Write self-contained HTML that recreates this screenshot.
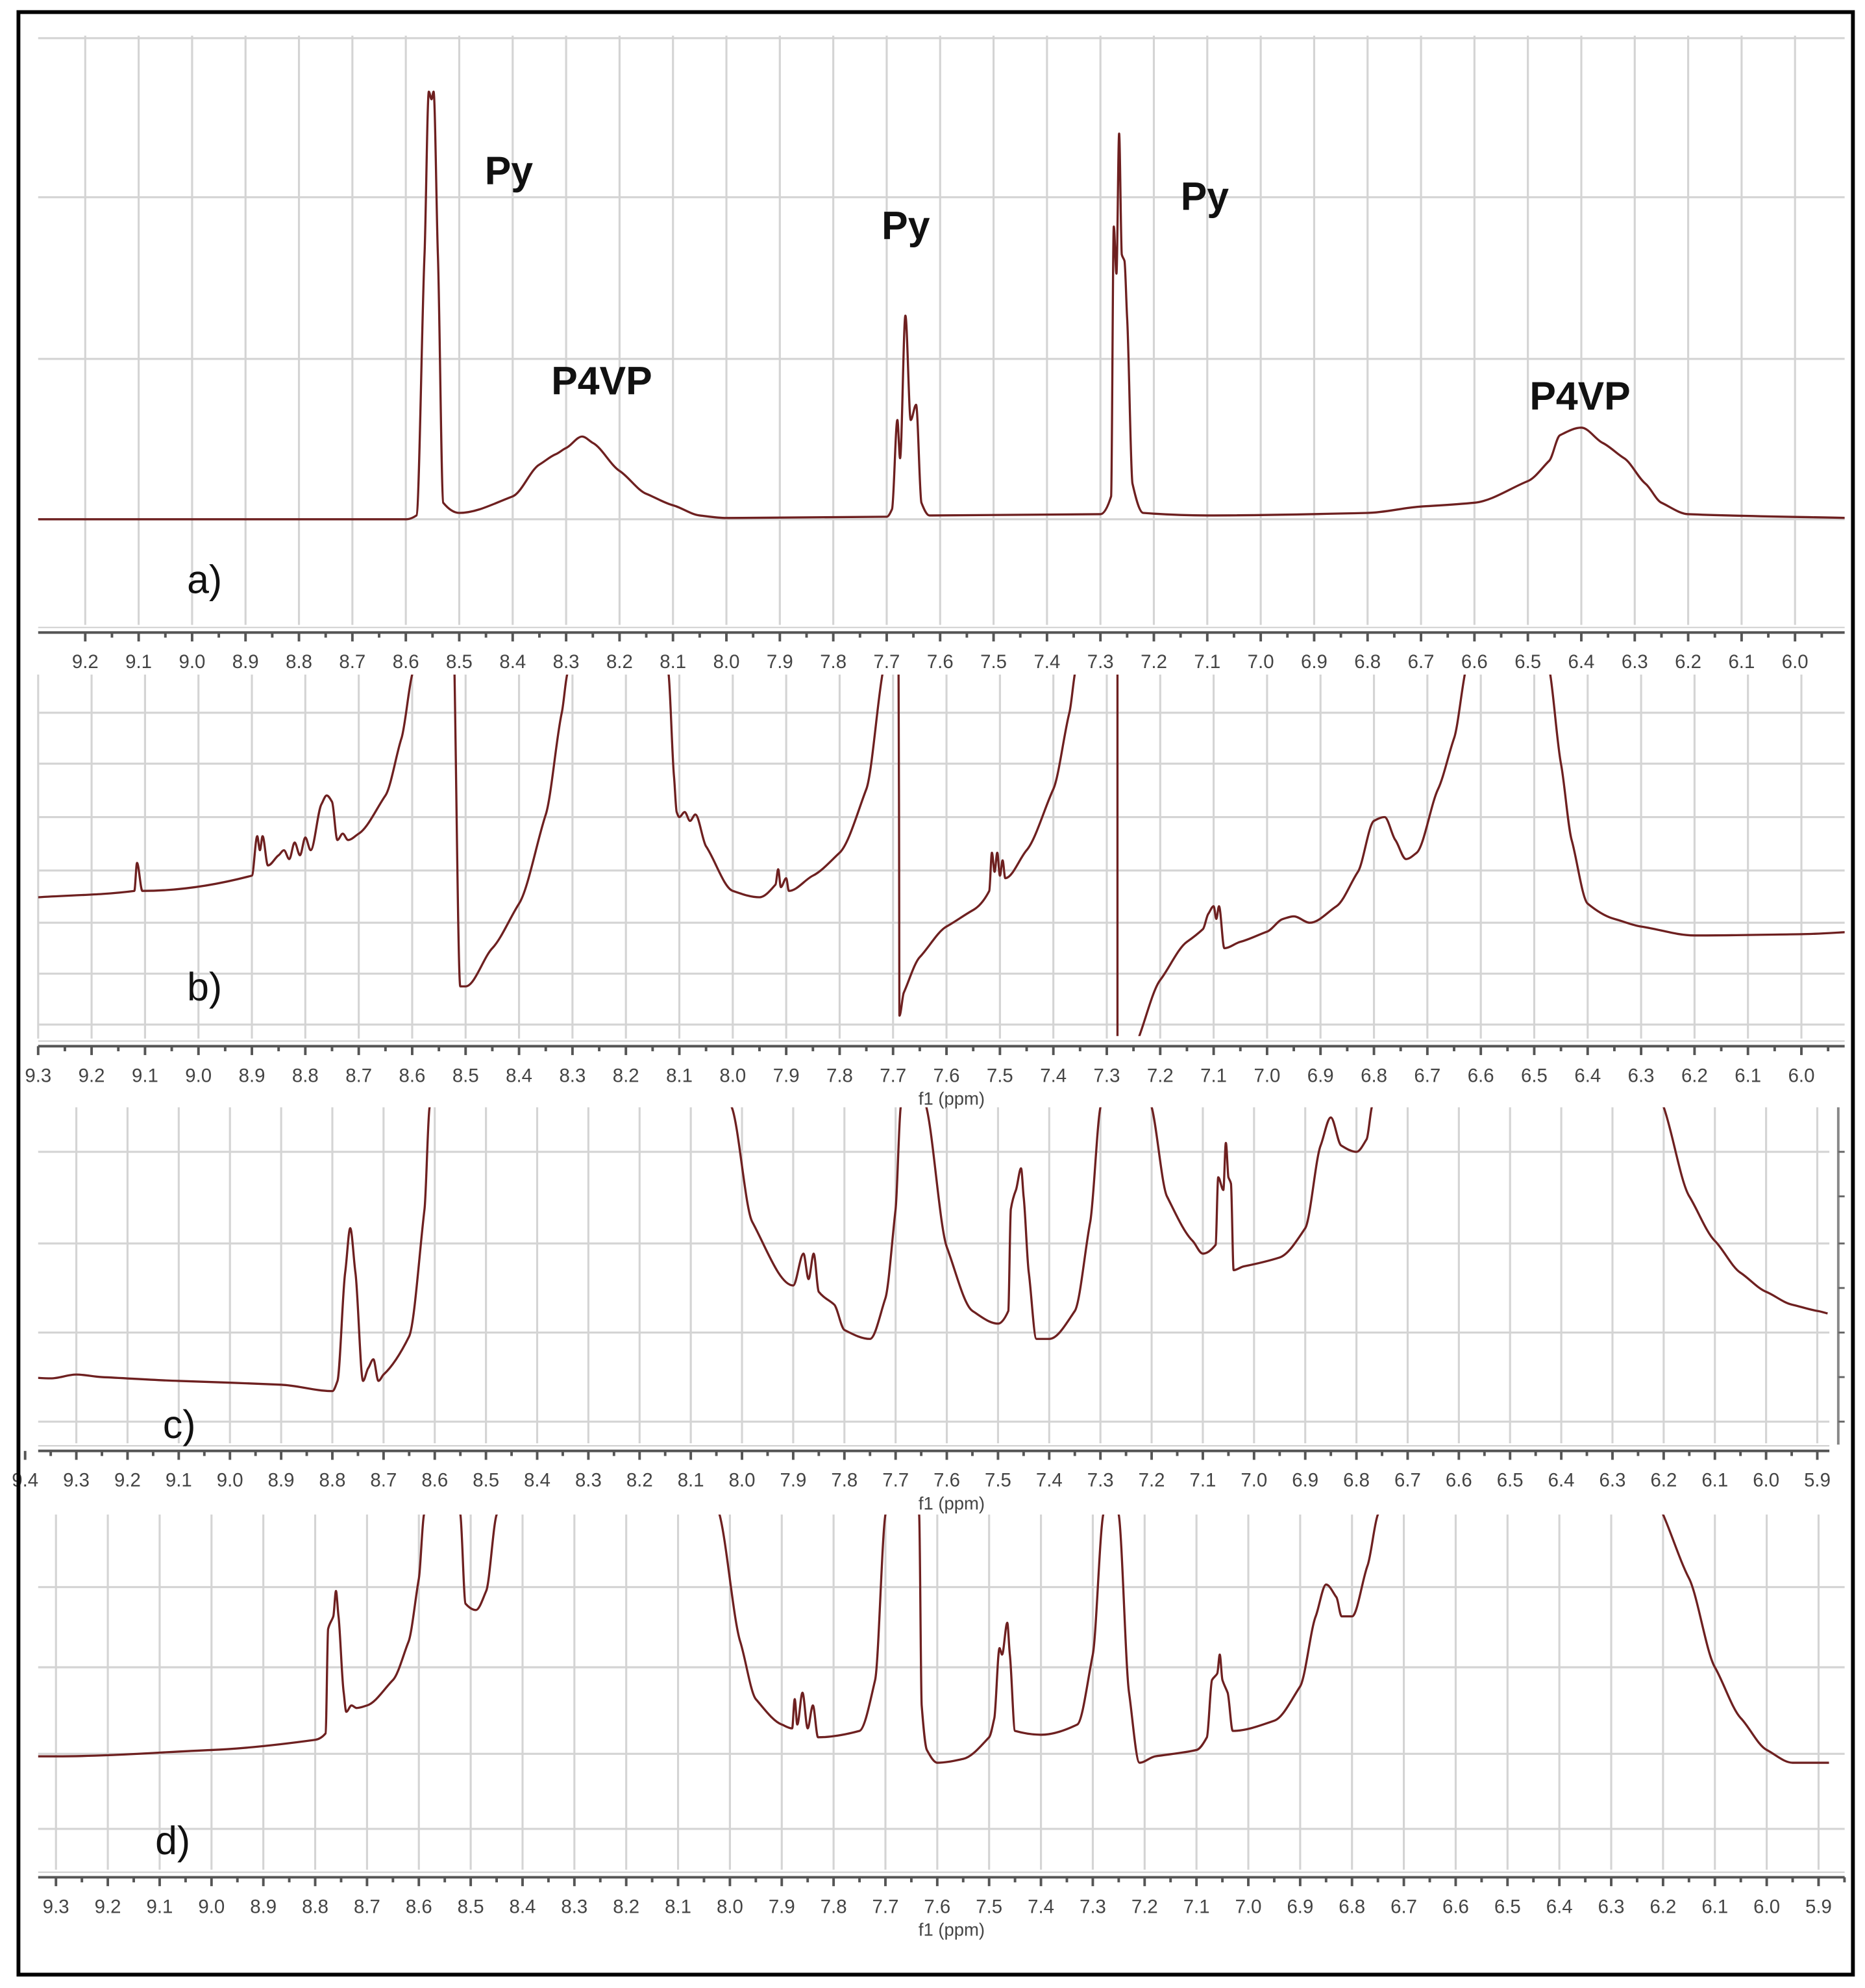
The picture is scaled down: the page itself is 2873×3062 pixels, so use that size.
<!DOCTYPE html>
<html><head><meta charset="utf-8"><style>
html,body{margin:0;padding:0;background:#fff;}
svg{display:block;}
</style></head><body>
<svg id="fig" width="2873" height="3062" viewBox="0 0 1466 1562" preserveAspectRatio="none" xmlns="http://www.w3.org/2000/svg"></svg>
<script>
// ---- data: ppm positions and intensities (display units above panel bottom) ----
const ppmA = [9.3,8.6,8.58,8.565,8.557,8.552,8.548,8.54,8.53,8.5,8.4,8.35,8.32,8.3,8.27,8.25,8.2,8.15,8.1,8.05,8.0,7.7,7.69,7.68,7.675,7.665,7.655,7.645,7.635,7.62,7.3,7.28,7.275,7.27,7.265,7.26,7.255,7.25,7.24,7.22,7.1,6.8,6.7,6.6,6.5,6.46,6.44,6.4,6.36,6.32,6.28,6.25,6.2,5.9];
const intA = [0,0,3,208,336,330,336,208,13,5,18,43,51,56,65,60,38,20,11,3,1,2,8,78,48,160,78,90,13,3,4,18,230,193,303,208,203,158,28,5,3,5,10,13,30,46,66,72,60,48,28,13,4,1];
const ppmB = [9.3,9.12,9.115,9.105,8.9,8.89,8.885,8.88,8.87,8.85,8.84,8.83,8.82,8.81,8.8,8.79,8.77,8.76,8.75,8.74,8.73,8.72,8.7,8.65,8.62,8.6,8.58,null,8.52,8.521,8.51,8.5,8.45,8.4,8.35,8.32,8.31,8.29,null,8.13,8.12,8.11,8.105,8.1,8.09,8.08,8.07,8.05,8.0,7.95,7.92,7.915,7.91,7.9,7.895,7.85,7.8,7.75,7.72,7.71,null,7.69,7.689,7.688,7.68,7.65,7.6,7.55,7.52,7.515,7.51,7.505,7.5,7.495,7.49,7.45,7.4,7.37,7.36,7.35,null,7.28,7.2799,null,7.24,7.2,7.15,7.12,7.11,7.1,7.095,7.09,7.08,7.05,7.0,6.97,6.95,6.92,6.87,6.83,6.8,6.78,6.76,6.74,6.72,6.68,6.65,6.63,6.62,null,6.48,6.47,6.45,6.43,6.4,6.35,6.3,6.2,6.0,5.9];
const intB = [110,115,137,115,127,158,147,158,135,143,147,140,153,143,157,147,183,190,185,155,160,155,160,190,235,285,330,null,330,290,40,40,70,105,175,255,285,330,null,330,285,205,177,173,177,170,175,150,115,110,120,132,118,125,115,127,145,195,285,330,null,330,200,17,35,63,87,100,115,145,130,145,127,139,125,147,195,255,285,330,null,290,0,null,0,45,75,85,97,103,93,103,70,75,83,93,95,90,103,130,170,173,155,140,145,195,235,285,330,null,330,285,215,155,105,93,87,80,81,83];
const ppmC = [9.4,9.35,9.3,9.25,9.1,8.9,8.8,8.79,8.775,8.765,8.755,8.74,8.73,8.72,8.71,8.7,8.65,8.62,8.61,8.6,null,8.03,8.02,7.98,7.9,7.88,7.87,7.86,7.85,7.82,7.8,7.75,7.72,7.7,7.69,7.685,null,7.645,7.64,7.6,7.55,7.5,7.48,7.475,7.465,7.455,7.45,7.44,7.425,7.4,7.35,7.32,7.3,7.295,null,7.205,7.2,7.17,7.12,7.1,7.075,7.07,7.06,7.055,7.05,7.045,7.04,7.02,6.95,6.9,6.87,6.85,6.83,6.8,6.78,6.77,6.765,null,6.205,6.2,6.15,6.1,6.05,6.0,5.95,5.9,5.88];
const intC = [53,52,55,53,50,47,42,50,135,170,135,50,60,67,50,55,85,185,265,275,null,275,265,175,125,150,130,150,120,110,90,83,115,185,265,275,null,275,265,155,105,95,105,185,200,217,195,135,83,83,105,175,265,275,null,275,265,195,160,150,157,210,200,237,210,205,137,140,147,170,235,257,235,230,240,265,275,null,275,265,195,160,135,120,110,105,103];
const ppmD = [9.4,9.3,9.0,8.8,8.78,8.775,8.765,8.76,8.755,8.745,8.74,8.73,8.72,8.7,8.65,8.62,8.6,8.59,8.58,null,8.525,8.52,8.51,8.49,8.47,8.45,8.44,null,8.025,8.02,7.98,7.95,7.9,7.88,7.875,7.87,7.86,7.85,7.84,7.83,7.75,7.72,7.7,7.695,null,7.64,7.635,7.63,7.62,7.6,7.55,7.5,7.49,7.48,7.475,7.465,7.46,7.45,7.4,7.33,7.3,7.28,7.275,null,7.255,7.25,7.23,7.21,7.18,7.1,7.08,7.07,7.06,7.055,7.05,7.04,7.03,6.95,6.9,6.87,6.85,6.83,6.82,6.8,6.77,6.75,6.74,null,6.205,6.2,6.15,6.1,6.05,6.0,5.95,5.88];
const intD = [90,90,95,103,108,190,200,220,200,140,125,130,128,130,150,180,230,280,290,null,290,280,210,205,220,280,290,null,290,280,180,135,115,112,135,115,140,112,130,105,110,150,280,290,null,290,280,130,95,85,88,105,120,175,170,195,170,110,107,115,170,280,290,null,290,280,140,85,90,95,105,150,155,170,150,140,110,118,145,200,225,215,200,200,240,280,290,null,290,280,230,160,120,95,85,85];
const ticksA = [9.2,9.1,9.0,8.9,8.8,8.7,8.6,8.5,8.4,8.3,8.2,8.1,8.0,7.9,7.8,7.7,7.6,7.5,7.4,7.3,7.2,7.1,7.0,6.9,6.8,6.7,6.6,6.5,6.4,6.3,6.2,6.1,6.0];
const ticksB = [9.3].concat(ticksA);
const ticksC = [9.4].concat(ticksB).concat([5.9]);
const ticksD = [9.3].concat(ticksA).concat([5.9]);
const labelsA = ticksA.map(v=>v.toFixed(1));
const labelsB = ticksB.map(v=>v.toFixed(1));
const labelsC = ticksC.map(v=>v.toFixed(1));
const labelsD = ticksD.map(v=>v.toFixed(1));

const NS='http://www.w3.org/2000/svg';
const svg=document.getElementById('fig');
function mk(tag,attrs,parent){const e=document.createElementNS(NS,tag);for(const k in attrs)e.setAttribute(k,attrs[k]);(parent||svg).appendChild(e);return e;}

// monotone cubic path through screen points (x increasing)
function monoPath(pts){
  const n=pts.length; if(n<2) return '';
  let d='M'+pts[0][0].toFixed(1)+','+pts[0][1].toFixed(1);
  const dx=[],s=[];
  for(let i=0;i<n-1;i++){dx[i]=pts[i+1][0]-pts[i][0];s[i]=dx[i]>0.3?(pts[i+1][1]-pts[i][1])/dx[i]:null;}
  const m=[];
  for(let i=0;i<n;i++){
    const a=i>0?s[i-1]:null,b=i<n-1?s[i]:null;
    if(a===null&&b===null)m[i]=0;
    else if(a===null)m[i]=b; else if(b===null)m[i]=a;
    else if(a*b<=0)m[i]=0;
    else m[i]=3*(a+b)/((2*b+a)/b+(b+2*a)/a)/3*2/ (1) /2*2/2*2; // harmonic-ish
  }
  for(let i=0;i<n-1;i++){
    const p=pts[i],q=pts[i+1];
    if(s[i]===null){d+=' L'+q[0].toFixed(1)+','+q[1].toFixed(1);continue;}
    const h=dx[i]/3;
    let m0=(i>0&&s[i-1]===null)?s[i]:m[i], m1=(i+1<n-1&&s[i+1]===null)?s[i]:m[i+1];
    if(!isFinite(m0))m0=s[i]; if(!isFinite(m1))m1=s[i];
    d+=' C'+(p[0]+h).toFixed(1)+','+(p[1]+m0*h).toFixed(1)+' '+(q[0]-h).toFixed(1)+','+(q[1]-m1*h).toFixed(1)+' '+q[0].toFixed(1)+','+q[1].toFixed(1);
  }
  return d;
}

const panels=[
 {id:'a',p0:9.2,x0:67,k:420,top:28,bottom:408,left:30,right:1450,axisY:497,hgrid:[30,155,282,408],ppm:ppmA,ints:intA,ticks:ticksA,labels:labelsA,lab:'a)',lx:147,ly:466,f1:false,clipTop:20},
 {id:'b',p0:9.2,x0:72,k:420,top:530,bottom:815,left:30,right:1450,axisY:822,hgrid:[560,600,642,684,725,765,805],ppm:ppmB,ints:intB,ticks:ticksB,labels:labelsB,lab:'b)',lx:147,ly:786,f1:true,clipTop:530},
 {id:'c',p0:9.3,x0:60,k:402.5,top:870,bottom:1135,left:30,right:1438,axisY:1140,hgrid:[905,977,1047,1117],ppm:ppmC,ints:intC,ticks:ticksC,labels:labelsC,lab:'c)',lx:128,ly:1130,f1:true,clipTop:870,rightAxis:true},
 {id:'d',p0:9.3,x0:44,k:407.5,top:1190,bottom:1470,left:30,right:1450,axisY:1475,hgrid:[1247,1310,1378,1437],ppm:ppmD,ints:intD,ticks:ticksD,labels:labelsD,lab:'d)',lx:122,ly:1457,f1:true,clipTop:1190}
];

const defs=mk('defs',{});
panels.forEach(P=>{
  const xs=p=>P.x0+(P.p0-p)*P.k;
  const ys=v=>P.bottom-v;
  const g=mk('g',{});
  
  
  P.hgrid.forEach(y=>{
    const l=mk('line',{x1:P.left,x2:P.right,y1:y,y2:y,stroke:'#d4d4d4','stroke-width':1.6},g);
    
    
  });
  P.ticks.forEach(t=>{
    const x=xs(t); if(x<P.left-2||x>P.right+2) return;
    const l=mk('line',{x1:x,x2:x,y1:P.top,y2:P.axisY-6,stroke:'#d4d4d4','stroke-width':1.6},g);
    
    
  });
  const ax=mk('line',{x1:P.left,x2:P.right,y1:P.axisY,y2:P.axisY,stroke:'#555','stroke-width':2},g);
  
  
  mk('line',{x1:P.left,x2:P.right,y1:P.axisY-4,y2:P.axisY-4,stroke:'#ccc','stroke-width':1},g);
  P.ticks.forEach((t,i)=>{
    const x=xs(t);
    mk('line',{x1:x,x2:x,y1:P.axisY,y2:P.axisY+7,stroke:'#555','stroke-width':2},g);
    const mx=xs(t-0.05); if(mx<P.right) mk('line',{x1:mx,x2:mx,y1:P.axisY,y2:P.axisY+4,stroke:'#555','stroke-width':2},g);
    const tx=mk('text',{x:x,y:P.axisY+28,'text-anchor':'middle','font-family':'"Liberation Sans",sans-serif','font-size':15,fill:'#444'},g);
    tx.textContent=P.labels[i];
    
    
  });
  if(P.f1){
    const f=mk('text',{x:748,y:P.axisY+46,'text-anchor':'middle','font-family':'"Liberation Sans",sans-serif','font-size':14,fill:'#444'},g);
    f.textContent='f1 (ppm)';
    
    
  }
  if(P.rightAxis){
    mk('line',{x1:1445,x2:1445,y1:P.top,y2:P.bottom,stroke:'#888','stroke-width':2},g);
    [905,940,977,1012,1047,1082,1117].forEach(y=>mk('line',{x1:1445,x2:1450,y1:y,y2:y,stroke:'#666','stroke-width':1.5},g));
  }
  const cp=mk('clipPath',{id:'clip'+P.id},defs);
  mk('rect',{x:P.left,y:P.clipTop,width:P.right-P.left,height:P.axisY-8-P.clipTop},cp);
  let d='',seg=[];
  const flush=()=>{if(seg.length>1)d+=monoPath(seg)+' ';seg=[];};
  for(let i=0;i<P.ppm.length;i++){
    if(P.ppm[i]===null){flush();continue;}
    seg.push([xs(P.ppm[i]),ys(P.ints[i])]);
  }
  flush();
  const sp=mk('path',{d:d,fill:'none',stroke:'#6e2020','stroke-width':1.7,'stroke-linejoin':'round','clip-path':'url(#clip'+P.id+')'},g);
  
  
  const lb=mk('text',{x:P.lx,y:P.ly,'font-family':'"Liberation Sans",sans-serif','font-size':31,fill:'#111'},g);
  lb.textContent=P.lab;
  
  
});

const annText=['Py','P4VP','Py','Py','P4VP'];
const annX=[400,473,712,947,1242];
const annY=[145,310,188,165,322];
annText.forEach((t,i)=>{
  const e=mk('text',{x:annX[i],y:annY[i],'text-anchor':'middle','font-family':'"Liberation Sans",sans-serif','font-size':31,'font-weight':'bold',fill:'#111'});
  e.textContent=t;
  
  
});
const fr=mk('rect',{x:14.5,y:9.5,width:1442,height:1542,fill:'none',stroke:'#000','stroke-width':3});


</script>
</body></html>
